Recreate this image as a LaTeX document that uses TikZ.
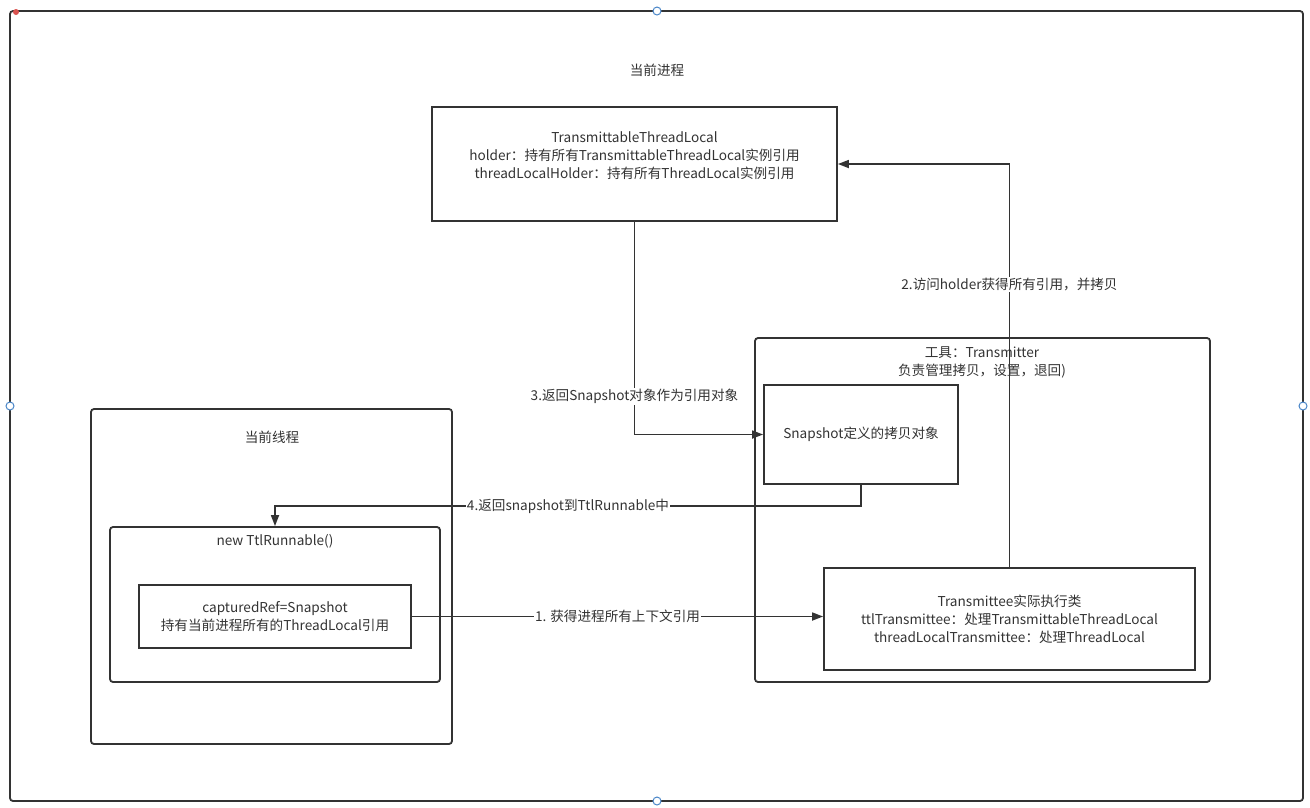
\documentclass[tikz,border=0pt]{standalone}
\usepackage{fontspec}
\setmainfont{Noto Sans CJK SC}
\usetikzlibrary{arrows.meta,positioning}
\definecolor{ink}{HTML}{333333}
\definecolor{handle}{HTML}{4A86C8}
\definecolor{dot}{HTML}{D9534F}

\begin{document}
\begin{tikzpicture}[
            x=1pt, y=-1pt,
            every node/.style={font=\fontsize{13.6}{18}\selectfont, text=ink},
            box/.style={draw=ink, line width=1.8pt, rectangle, align=center, inner sep=0pt},
            grp/.style={box, rounded corners=3pt},
            lbl/.style={fill=white, inner sep=1pt},
            arr/.style={draw=ink, line width=1.7pt, -{Triangle[length=11pt,width=8pt]}},
            hnd/.style={draw=handle, fill=white, line width=1pt}
        ]

        \useasboundingbox (0,0) rectangle (1310,807);

        % process frame
        \node[grp, minimum width=1293pt, minimum height=790pt] (proc) at (656.5,406) {};
        \node (proctitle) at (657,70) {当前进程};

        \node[box, minimum width=405pt, minimum height=114pt] (ttl) at (634.5,164)
            {TransmittableThreadLocal\\holder：持有所有TransmittableThreadLocal实例引用\\threadLocalHolder：持有所有ThreadLocal实例引用\\\mbox{}};

        % transmitter
        \node[grp, minimum width=455pt, minimum height=344pt] (tool) at (982.5,510) {};
        \node[align=center] (tooltitle) at (982,362) {工具：Transmitter\\负责管理拷贝，设置，退回)};
        \node[box, minimum width=194pt, minimum height=99pt] (snap) at (861,434.5) {Snapshot定义的拷贝对象};
        \node[box, minimum width=371pt, minimum height=102pt] (tee) at (1009.5,619)
            {Transmittee实际执行类\\ttlTransmittee：处理TransmittableThreadLocal\\threadLocalTransmittee：处理ThreadLocal};

        % thread
        \node[grp, minimum width=361pt, minimum height=335pt] (thread) at (271.5,576.5) {};
        \node (threadtitle) at (272,437) {当前线程};
        \node[grp, minimum width=330pt, minimum height=155pt] (run) at (275,604.5) {};
        \node (runtitle) at (275,541) {new TtlRunnable()};
        \node[box, minimum width=272pt, minimum height=63pt] (cap) at (275,616.5)
            {capturedRef=Snapshot\\持有当前进程所有的ThreadLocal引用};

        \draw[arr] (cap.east) -- node[lbl] {1. 获得进程所有上下文引用} (cap.east -| tee.west);
        \draw[arr] (tee.north) |- node[lbl, pos=0.35] {2.访问holder获得所有引用，并拷贝} (ttl.east);
        \draw[arr] (ttl.south) |- node[lbl, pos=0.41] {3.返回Snapshot对象作为引用对象} (snap.west);
        \draw[arr] (snap.south) -- ++(0,21) -| node[lbl, pos=0.25] {4.返回snapshot到TtlRunnable中} (run.north);

        % selection handles
        \draw[hnd] (657,11) circle (4pt);
        \draw[hnd] (10,406) circle (4pt);
        \draw[hnd] (1303,406) circle (4pt);
        \draw[hnd] (657,801) circle (4pt);
        \fill[dot] (16,12) circle (3pt);

\end{tikzpicture}
\end{document}
